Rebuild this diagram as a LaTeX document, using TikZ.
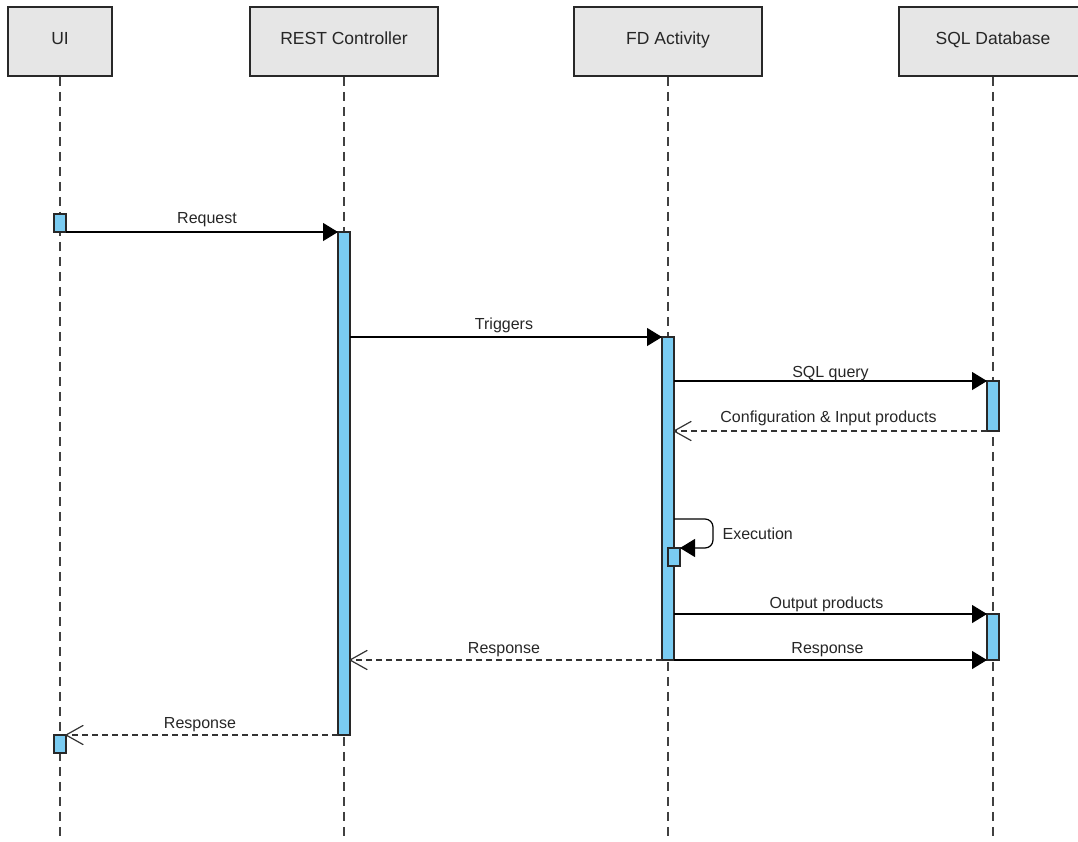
\documentclass[tikz,border=0pt]{standalone}
\usepackage{fontspec}
\setmainfont{Liberation Sans}
\usetikzlibrary{arrows.meta}
\definecolor{actblue}{RGB}{122,204,242}
\definecolor{hdrgray}{RGB}{230,230,230}
\definecolor{linegray}{RGB}{40,40,40}
\pgfdeclarearrow{
  name = OpenVee,
  parameters = {\the\pgfarrowlength,\the\pgfarrowwidth},
  setup code = {
    \pgfarrowssettipend{0pt}
    \pgfarrowssetlineend{-0.5\pgflinewidth}
    \pgfarrowssetbackend{-\pgfarrowlength}
    \pgfarrowssavethe\pgfarrowlength
    \pgfarrowssavethe\pgfarrowwidth
  },
  drawing code = {
    \pgfsetdash{}{0pt}
    \pgfsetroundjoin
    \pgfsetroundcap
    \pgfpathmoveto{\pgfqpoint{-\pgfarrowlength}{.5\pgfarrowwidth}}
    \pgfpathlineto{\pgfpointorigin}
    \pgfpathlineto{\pgfqpoint{-\pgfarrowlength}{-.5\pgfarrowwidth}}
    \pgfusepathqstroke
  },
  defaults = {length=18pt, width=19pt}
}
\begin{document}
\begin{tikzpicture}[x=1pt,y=-1pt,
  header/.style={draw=linegray, line width=1.5pt, fill=hdrgray, minimum width=188pt, minimum height=69pt, inner sep=0, text height=12pt, text depth=6pt, font=\fontsize{17.5}{20}\selectfont, text=black!85},
  lifeline/.style={draw=black!75, line width=1.3pt, dash pattern=on 9pt off 6pt},
  act/.style={draw=linegray, line width=1.3pt, fill=actblue, minimum width=12pt, inner sep=0, outer sep=0, anchor=north},
  msg/.style={draw=black, line width=1.2pt, -{Triangle[length=15pt,width=18pt]}},
  ret/.style={draw=black!80, line width=1.2pt, dash pattern=on 6pt off 4pt, -{OpenVee[length=17pt,width=19pt,line width=1.1pt]}},
  lbl/.style={font=\fontsize{16}{19}\selectfont, text=black!85, inner sep=0}
]
\useasboundingbox (0,0) rectangle (1078,841);
\clip (0,0) rectangle (1078,841);

% headers
\node[header, minimum width=104pt] (ui) at (60,41.5) {UI};
\node[header] (rest) at (344,41.5) {REST Controller};
\node[header] (fd) at (668,41.5) {FD Activity};
\node[header] (sql) at (993,41.5) {SQL Database};

% lifeline ends
\coordinate (uiEnd) at (60,841);
\coordinate (restEnd) at (344,841);
\coordinate (fdEnd) at (668,841);
\coordinate (sqlEnd) at (993,841);
\draw[lifeline] (ui.south) -- (uiEnd);
\draw[lifeline] (rest.south) -- (restEnd);
\draw[lifeline] (fd.south) -- (fdEnd);
\draw[lifeline] (sql.south) -- (sqlEnd);

% activations
\node[act, minimum height=18pt] (uiA) at (60,214) {};
\node[act, minimum height=503pt] (restA) at (344,232) {};
\node[act, minimum height=323pt] (fdA) at (668,337) {};
\node[act, minimum height=50pt] (sqlA) at (993,381) {};
\node[act, minimum height=18pt] (fdS) at (674,548) {};
\node[act, minimum height=46pt] (sqlB) at (993,614) {};
\node[act, minimum height=18pt] (uiB) at (60,735) {};

% messages
\draw[msg] (uiA.south east) -- node[lbl, midway, above=5pt, xshift=5pt] {Request} (restA.north west);
\draw[msg] (restA.east |- fdA.north) -- node[lbl, midway, above=3.5pt, xshift=-2pt] {Triggers} (fdA.north west);
\draw[msg] (fdA.east |- sqlA.north) -- node[lbl, midway, above=0pt] {SQL query} (sqlA.north west);
\draw[ret] (sqlA.south west) -- node[lbl, midway, above=5pt, xshift=-2pt] {Configuration \& Input products} (fdA.east |- sqlA.south);

\coordinate (selfA) at (713,519);
\coordinate (selfB) at (713,548);
\draw[msg, rounded corners=8pt] (fdA.east |- selfA) -- (selfA) -- node[lbl, midway, right=9pt] {Execution} (selfB) -- (fdS.north east);

\draw[msg] (fdA.east |- sqlB.north) -- node[lbl, midway, above=2pt, xshift=-4pt] {Output products} (sqlB.north west);
\draw[msg] (fdA.south east) -- node[lbl, midway, above=3pt, xshift=-3pt] {Response} (sqlB.south west);
\draw[ret] (fdA.south west) -- node[lbl, midway, above=3pt, xshift=-2pt] {Response} (restA.east |- fdA.south);
\draw[ret] (restA.south west) -- node[lbl, midway, above=3pt, xshift=-2pt] {Response} (uiB.north east);
\end{tikzpicture}
\end{document}
